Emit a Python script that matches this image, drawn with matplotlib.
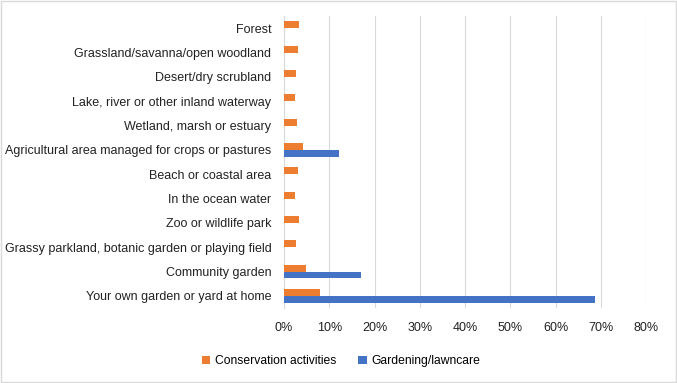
import matplotlib
matplotlib.use("Agg")
import matplotlib.pyplot as plt
import matplotlib.ticker as mticker
from matplotlib.patches import Rectangle
import numpy as np

CATEGORIES = [
    "Forest",
    "Grassland/savanna/open woodland",
    "Desert/dry scrubland",
    "Lake, river or other inland waterway",
    "Wetland, marsh or estuary",
    "Agricultural area managed for crops or pastures",
    "Beach or coastal area",
    "In the ocean water",
    "Zoo or wildlife park",
    "Grassy parkland, botanic garden or playing field",
    "Community garden",
    "Your own garden or yard at home",
]
CONSERVATION = [3.4, 3.1, 2.6, 2.5, 2.9, 4.2, 3.0, 2.4, 3.4, 2.6, 4.8, 8.0]
GARDENING = [None, None, None, None, None, 12.1, None, None, None, None, 17.1, 68.7]

ORANGE = "#ED7D31"
BLUE = "#4472C4"

plt.rcParams["font.family"] = ["Liberation Sans", "DejaVu Sans"]

fig = plt.figure(figsize=(6.77, 3.83), dpi=100)
ax = fig.add_axes([284 / 677, 1 - 308 / 383, (646 - 284) / 677, 292 / 383])

n = len(CATEGORIES)
y = np.arange(n)[::-1]
h = 0.28

cons = np.array(CONSERVATION) / 100
gard = np.array([np.nan if v is None else v for v in GARDENING]) / 100

ax.barh(y + h / 2, cons, height=h, color=ORANGE, label="Conservation activities", zorder=3)
ax.barh(y - h / 2, np.nan_to_num(gard), height=h, color=BLUE, label="Gardening/lawncare", zorder=3)

ax.set_yticks(y)
ax.set_yticklabels(CATEGORIES, fontsize=9.0, color="#222222")
ax.set_ylim(-0.5, n - 0.5)
ax.set_xlim(0, 0.8)
ax.xaxis.set_major_locator(mticker.MultipleLocator(0.1))
ax.xaxis.set_major_formatter(mticker.PercentFormatter(1.0, decimals=0))
ax.tick_params(axis="x", labelsize=9.0, colors="#222222", length=0, pad=10)
ax.tick_params(axis="y", length=0, pad=9)
ax.grid(axis="x", color="#D9D9D9", linewidth=0.8, zorder=0)
for s in ["top", "right", "bottom"]:
    ax.spines[s].set_visible(False)
ax.spines["left"].set_color("#D9D9D9")
ax.spines["left"].set_linewidth(0.8)

fig.legend(loc="center", bbox_to_anchor=(341 / 677, 1 - 361 / 383), ncol=2,
           frameon=False, fontsize=8.7, handlelength=0.7, handleheight=0.7,
           columnspacing=1.8, handletextpad=0.4)

# thin chart-area border
fig.patches.append(Rectangle((0.002, 0.003), 0.996, 0.994, transform=fig.transFigure,
                             fill=False, edgecolor="#D9D9D9", linewidth=1.0))

fig.savefig("out.png", dpi=100)
